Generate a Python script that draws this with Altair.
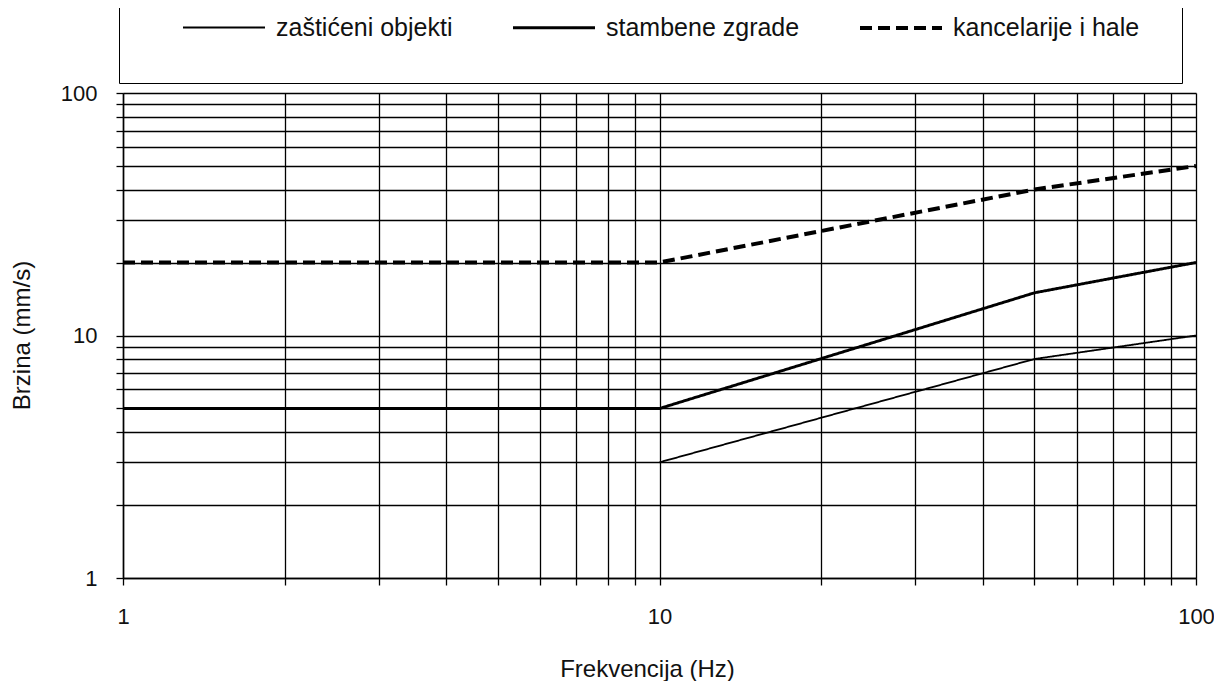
import altair as alt
import pandas as pd

# ---- data ----
series_names = ["zaštićeni objekti", "stambene zgrade", "kancelarije i hale"]

freq_zasticeni = [10, 50, 100]
vel_zasticeni = [3, 8, 10]

freq_stambene = [1, 10, 50, 100]
vel_stambene = [5, 5, 15, 20]

freq_kancelarije = [1, 10, 50, 100]
vel_kancelarije = [20, 20, 40, 50]

tick_values = [1, 2, 3, 4, 5, 6, 7, 8, 9, 10, 20, 30, 40, 50, 60, 70, 80, 90, 100]
major_labels = [1, 10, 100]

rows = []
for name, fx, vy in [
    (series_names[0], freq_zasticeni, vel_zasticeni),
    (series_names[1], freq_stambene, vel_stambene),
    (series_names[2], freq_kancelarije, vel_kancelarije),
]:
    for f, v in zip(fx, vy):
        rows.append({"series": name, "f": f, "v": v})
df = pd.DataFrame(rows)

FONT = "Liberation Sans"
label_expr = "indexof([1, 10, 100], datum.value) >= 0 ? format(datum.value, 'd') : ''"

legend = alt.Legend(
    orient="none", legendX=-4, legendY=-150, direction="horizontal", columns=3,
    title=None, fillColor="white", strokeColor="black", padding=42,
    symbolType="stroke", symbolSize=6724, symbolStrokeColor="black",
    labelFontSize=25, labelFont=FONT, labelColor="#111", labelOffset=9,
    columnPadding=38, symbolOffset=20, labelLimit=400,
)

chart = alt.Chart(df).mark_line(clip=False).encode(
    x=alt.X("f:Q", scale=alt.Scale(type="log", domain=[1, 100], nice=False),
            axis=alt.Axis(values=tick_values, labelExpr=label_expr, title="Frekvencija (Hz)",
                          labelOverlap=False, labelFlush=False, labelPadding=21,
                          titleX=524, titleY=91, titleBaseline="middle", titleAlign="center")),
    y=alt.Y("v:Q", scale=alt.Scale(type="log", domain=[1, 100], nice=False),
            axis=alt.Axis(values=tick_values, labelExpr=label_expr, title="Brzina (mm/s)",
                          labelOverlap=False, labelFlush=False, labelPadding=19,
                          titleX=-101, titleY=242, titleBaseline="middle", titleAlign="center",
                          titleAngle=-90)),
    stroke=alt.Stroke("series:N", scale=alt.Scale(domain=series_names, range=["black"] * 3), legend=legend),
    strokeDash=alt.StrokeDash("series:N", scale=alt.Scale(domain=series_names, range=[[1, 0], [1, 0], [12, 6]]), legend=legend),
    strokeWidth=alt.StrokeWidth("series:N", scale=alt.Scale(domain=series_names, range=[1.8, 4, 4]), legend=legend),
).properties(
    width=1073, height=485,
    autosize=alt.AutoSizeParams(type="none"),
    padding={"left": 115, "top": 85, "right": 18, "bottom": 103},
).configure_view(stroke=None).configure_axis(
    grid=True, gridColor="black", gridWidth=1.3, gridOpacity=1,
    domainColor="black", domainWidth=1.5, tickColor="black", tickWidth=1.3, tickSize=7,
    labelFont=FONT, labelFontSize=22, labelColor="#111",
    titleFont=FONT, titleFontSize=24, titleFontWeight="normal", titleColor="#111",
)

chart.save("out.html", embed_options={"renderer": "svg", "actions": False})
